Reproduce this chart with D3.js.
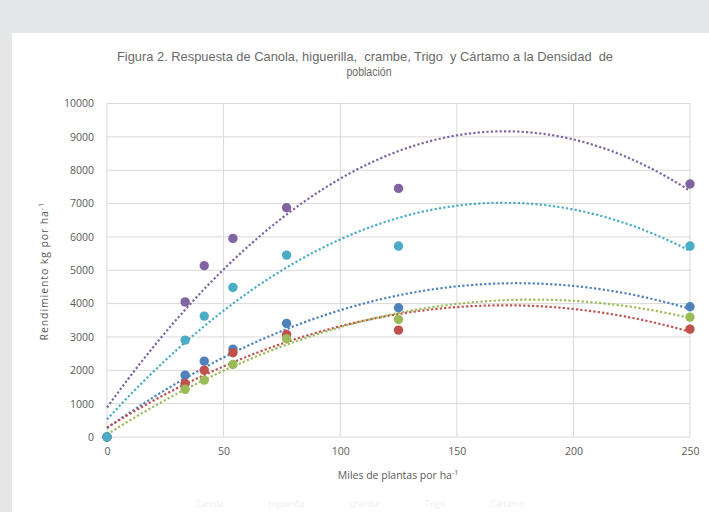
<!DOCTYPE html>
<html>
<head>
<meta charset="utf-8">
<script src="https://cdn.jsdelivr.net/npm/d3@7"></script>
<style>
  body { margin: 0; background: #e6e7e8; }
  svg { display: block; }
</style>
</head>
<body>
<div id="chart"></div>
<script>
// plant density (thousands per ha) and yield per crop
const densidad = [0, 33.5, 41.7, 54, 77, 125, 250];
const series = ["Canola", "higuerilla", "crambe", "Trigo", "Cártamo"];
const canola     = [0, 1855, 2275, 2635, 3405, 3875, 3905];
const higuerilla = [0, 1605, 2005, 2525, 3075, 3205, 3235];
const crambe     = [0, 1430, 1705, 2175, 2945, 3525, 3595];
const trigo      = [0, 4050, 5135, 5955, 6875, 7455, 7585];
const cartamo    = [0, 2905, 3625, 4485, 5455, 5725, 5725];
const xTicks = [0, 50, 100, 150, 200, 250];
const yTicks = d3.range(0, 10001, 1000);

const values = [canola, higuerilla, crambe, trigo, cartamo];
const colors = ["#4f81bd", "#c0504d", "#9bbb59", "#8064a2", "#4bacc6"];

const W = 709, H = 512;
const m = {left: 107, right: 19, top: 103.5, bottom: 75};

const svg = d3.select("#chart").append("svg")
    .attr("width", W).attr("height", H);

// white chart panel
svg.append("rect")
    .attr("x", 12).attr("y", 33)
    .attr("width", W).attr("height", H)
    .attr("fill", "#fff");

const x = d3.scaleLinear().domain([0, 250]).range([m.left, W - m.right]);
const y = d3.scaleLinear().domain([0, 10000]).range([H - m.bottom, m.top]);

const labelFont = "'Open Sans', 'Liberation Sans', sans-serif";
const txtColor = "#595959";

// gridlines
svg.append("g").selectAll("line").data(yTicks).enter().append("line")
    .attr("x1", x(0)).attr("x2", x(250))
    .attr("y1", d => y(d)).attr("y2", d => y(d))
    .attr("stroke", "#d9d9d9").attr("stroke-width", 1);
svg.append("g").selectAll("line").data(xTicks).enter().append("line")
    .attr("x1", d => x(d)).attr("x2", d => x(d))
    .attr("y1", y(0)).attr("y2", y(10000))
    .attr("stroke", "#d9d9d9").attr("stroke-width", 1);

// axes labels (no tick marks)
const yAxis = d3.axisLeft(y).tickValues(yTicks).tickSize(0).tickPadding(13).tickFormat(d3.format("d"));
svg.append("g").attr("transform", `translate(${x(0)},0)`).call(yAxis)
    .call(g => g.select(".domain").remove())
    .selectAll("text")
    .attr("fill", txtColor).style("font-family", labelFont).style("font-size", "10.5px");

const xAxis = d3.axisBottom(x).tickValues(xTicks).tickSize(0).tickPadding(11);
svg.append("g").attr("transform", `translate(0,${y(0)})`).call(xAxis)
    .call(g => g.select(".domain").remove())
    .selectAll("text")
    .attr("fill", txtColor).style("font-family", labelFont).style("font-size", "10.5px");

// quadratic least-squares trendline (like Excel "polinómica" order 2)
function polyFit(xs, ys) {
    let S = [0, 0, 0, 0, 0], T = [0, 0, 0];
    xs.forEach((xv, i) => {
        for (let k = 0; k < 5; k++) S[k] += Math.pow(xv, k);
        for (let k = 0; k < 3; k++) T[k] += ys[i] * Math.pow(xv, k);
    });
    const A = [[S[0], S[1], S[2], T[0]], [S[1], S[2], S[3], T[1]], [S[2], S[3], S[4], T[2]]];
    for (let i = 0; i < 3; i++) {
        for (let j = i + 1; j < 3; j++) {
            const f = A[j][i] / A[i][i];
            for (let k = i; k < 4; k++) A[j][k] -= f * A[i][k];
        }
    }
    const c = [0, 0, 0];
    for (let i = 2; i >= 0; i--) {
        let s = A[i][3];
        for (let k = i + 1; k < 3; k++) s -= A[i][k] * c[k];
        c[i] = s / A[i][i];
    }
    return xv => c[0] + c[1] * xv + c[2] * xv * xv;
}

const line = d3.line().x(d => x(d[0])).y(d => y(d[1]));
const xs = d3.range(0, 250.01, 2);

values.forEach((vals, i) => {
    const f = polyFit(densidad, vals);
    svg.append("path")
        .datum(xs.map(v => [v, f(v)]))
        .attr("d", line)
        .attr("fill", "none")
        .attr("stroke", colors[i])
        .attr("stroke-width", 2.2)
        .attr("stroke-dasharray", "2.2,2.2");
});

values.forEach((vals, i) => {
    svg.append("g").selectAll("circle").data(vals).enter().append("circle")
        .attr("cx", (d, j) => x(densidad[j]))
        .attr("cy", d => y(d))
        .attr("r", 4.7)
        .attr("fill", colors[i]);
});

// title, squeezed to look like a narrow font
const titleFont = "'Liberation Sans Narrow', 'Arial Narrow', 'Liberation Sans', sans-serif";
svg.append("text")
    .attr("x", 365).attr("y", 60.5)
    .attr("text-anchor", "middle")
    .attr("fill", "#6a6a6a")
    .style("font-family", titleFont)
    .style("font-size", "13px")
    .style("white-space", "pre")
    .attr("textLength", 496).attr("lengthAdjust", "spacingAndGlyphs")
    .text("Figura 2. Respuesta de Canola, higuerilla,  crambe, Trigo  y Cártamo a la Densidad  de");
svg.append("text")
    .attr("x", 369).attr("y", 76)
    .attr("text-anchor", "middle")
    .attr("fill", "#6a6a6a")
    .style("font-family", titleFont)
    .style("font-size", "13px")
    .attr("textLength", 45).attr("lengthAdjust", "spacingAndGlyphs")
    .text("población");

// axis titles
const yt = svg.append("text")
    .attr("transform", `translate(48,${(y(0) + y(10000)) / 2 + 1}) rotate(-90)`)
    .attr("text-anchor", "middle")
    .attr("fill", txtColor)
    .style("font-family", labelFont).style("font-size", "10.5px")
    .style("letter-spacing", "0.9px");
yt.append("tspan").text("Rendimiento kg por ha");
yt.append("tspan").attr("dy", -4).style("font-size", "7px").text("-1");

const xt = svg.append("text")
    .attr("x", 398).attr("y", 479)
    .attr("text-anchor", "middle")
    .attr("fill", txtColor)
    .style("font-family", labelFont).style("font-size", "10.5px");
xt.append("tspan").text("Miles de plantas por ha");
xt.append("tspan").attr("dy", -4).style("font-size", "7px").text("-1");

// legend (very faint, at the bottom edge)
const lg = svg.append("g").attr("transform", "translate(196,507)");
let lx = 0;
series.forEach((s, i) => {
    const t = lg.append("text").attr("x", lx).attr("y", 0)
        .attr("fill", "#eeeeee")
        .style("font-family", labelFont).style("font-size", "8.5px")
        .text(s);
    lx += t.node().getComputedTextLength() + 45;
});
</script>
</body>
</html>
